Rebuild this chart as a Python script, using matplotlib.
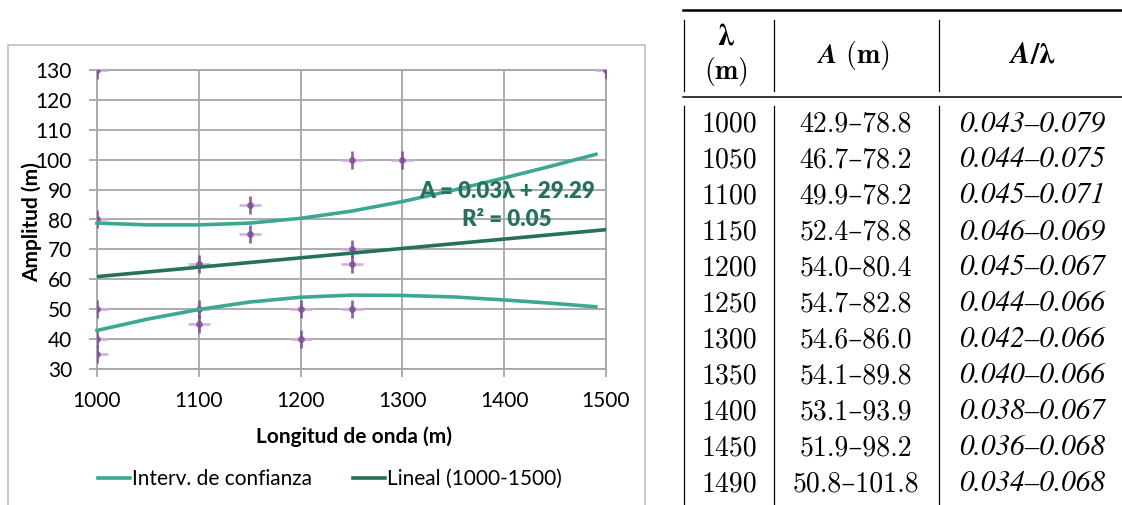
#!/usr/bin/env python3

import matplotlib
matplotlib.use('Agg')
import matplotlib.pyplot as plt
from matplotlib.patches import Rectangle
from matplotlib.lines import Line2D

# confidence interval table (also drawn as the two curves)
lam = [1000, 1050, 1100, 1150, 1200, 1250, 1300, 1350, 1400, 1450, 1490]
a_low = [42.9, 46.7, 49.9, 52.4, 54.0, 54.7, 54.6, 54.1, 53.1, 51.9, 50.8]
a_high = [78.8, 78.2, 78.2, 78.8, 80.4, 82.8, 86.0, 89.8, 93.9, 98.2, 101.8]
ratio_low = ['0.043', '0.044', '0.045', '0.046', '0.045', '0.044',
             '0.042', '0.040', '0.038', '0.036', '0.034']
ratio_high = ['0.079', '0.075', '0.071', '0.069', '0.067', '0.066',
              '0.066', '0.066', '0.067', '0.068', '0.068']

# measured points
obs_x = [1000, 1000, 1000, 1000, 1000, 1100, 1100, 1100, 1150, 1150,
         1200, 1200, 1250, 1250, 1250, 1250, 1300, 1500]
obs_y = [130, 80, 50, 40, 35, 65, 50, 45, 85, 75,
         50, 40, 100, 70, 65, 50, 100, 130]

# linear trend endpoints
lin_x = [1000, 1500]
lin_y = [60.9, 76.6]

teal = '#3da891'
dark = '#26705e'
grid = '#a6a6a6'

W, H = 1122, 505
fig = plt.figure(figsize=(W / 100, H / 100), dpi=100)
font = 'Lato'
cfs = 15

# chart frame
fig.add_artist(Rectangle((8 / W, -0.05), 637 / W, 1.05 - 45 / H,
                         transform=fig.transFigure, fill=False,
                         edgecolor='#c0c0c0', lw=1.2))

ax = fig.add_axes([97 / W, 1 - 369 / H, 509 / W, 299 / H])
ax.set_xlim(1000, 1500)
ax.set_ylim(30, 130)
ax.set_xticks(range(1000, 1501, 100))
ax.set_yticks(range(30, 131, 10))
ax.grid(True, color=grid, lw=1.3)
ax.set_axisbelow(True)
for s in ax.spines.values():
    s.set_color(grid)
    s.set_linewidth(1.3)
ax.tick_params(length=6, width=1.3, color=grid, labelsize=cfs)
ax.tick_params(axis='y', pad=12)
ax.tick_params(axis='x', pad=10)
for lab in ax.get_xticklabels() + ax.get_yticklabels():
    lab.set_fontfamily(font)

ax.plot(obs_x, obs_y, ls='none', marker='_', ms=16, mew=2,
        color='#cfaedb', alpha=0.9, zorder=3)
ax.plot(obs_x, obs_y, ls='none', marker='|', ms=13, mew=2,
        color='#7d4f93', alpha=0.85, zorder=3)
ax.plot(obs_x, obs_y, ls='none', marker='o', ms=4,
        color='#7d4f93', alpha=0.7, zorder=3)

ax.plot(lam, a_high, color=teal, lw=2.6, zorder=4, clip_on=False)
ax.plot(lam, a_low, color=teal, lw=2.6, zorder=4, clip_on=False)
ax.plot(lin_x, lin_y, color=dark, lw=2.6, zorder=4)

ax.text(1403, 89.5, 'A = 0.03λ + 29.29', ha='center', va='center',
        color=dark, fontsize=cfs + 1, fontweight='heavy', family=font,
        zorder=5)
ax.text(1403, 80, 'R² = 0.05', ha='center', va='center',
        color=dark, fontsize=cfs + 1, fontweight='heavy', family=font,
        zorder=5)

fig.text(354 / W, 1 - 437 / H, 'Longitud de onda (m)', ha='center',
         va='center', fontsize=cfs, fontweight='bold', family=font)
fig.text(32 / W, 1 - 222 / H, 'Amplitud (m)', ha='center', va='center',
         rotation=90, fontsize=cfs, fontweight='bold', family=font)

handles = [Line2D([], [], color=teal, lw=2.6),
           Line2D([], [], color=dark, lw=2.6)]
fig.legend(handles, ['Interv. de confianza', 'Lineal (1000-1500)'],
           loc='center', bbox_to_anchor=(330 / W, 1 - 479 / H), ncol=2,
           frameon=False, handlelength=1.5, handletextpad=0.1,
           columnspacing=2.0, prop={'family': font, 'size': cfs})

# table
plt.rcParams['mathtext.fontset'] = 'cm'
tfs = 20
rom = ['cmr10', 'DejaVu Serif']
ita = 'STIXGeneral'


def fx(px):
    return px / W


def fy(py):
    return 1 - py / H


fig.add_artist(Line2D([fx(683), fx(1122)], [fy(10), fy(10)],
                      transform=fig.transFigure, color='black', lw=1.8))
fig.add_artist(Line2D([fx(683), fx(1122)], [fy(97), fy(97)],
                      transform=fig.transFigure, color='black', lw=1.1))
for xp in [684, 774, 939]:
    fig.add_artist(Line2D([fx(xp), fx(xp)], [fy(20), fy(91)],
                          transform=fig.transFigure, color='black', lw=0.9))
    fig.add_artist(Line2D([fx(xp), fx(xp)], [fy(106), fy(505)],
                          transform=fig.transFigure, color='black', lw=0.9))

fig.text(fx(726), fy(36), r'$\boldsymbol{\lambda}$', ha='center',
         va='center', fontsize=tfs + 2, math_fontfamily='stix')
fig.text(fx(726), fy(71), r'$\mathbf{(m)}$', ha='center', va='center',
         fontsize=tfs)
fig.text(fx(853), fy(55), r'$\boldsymbol{A}\ \mathbf{(m)}$', ha='center',
         va='center', fontsize=tfs)
fig.text(fx(1032), fy(55), r'$\boldsymbol{A/\lambda}$', ha='center',
         va='center', fontsize=tfs + 1, math_fontfamily='stix')

for i in range(len(lam)):
    yp = fy(124 + i * 36)
    fig.text(fx(729), yp, str(lam[i]), ha='center', va='center',
             fontsize=tfs, family=rom)
    fig.text(fx(856), yp, f'{a_low[i]:.1f}–{a_high[i]:.1f}', ha='center',
             va='center', fontsize=tfs, family=rom)
    fig.text(fx(1032), yp, f'{ratio_low[i]}–{ratio_high[i]}', ha='center',
             va='center', fontsize=tfs + 1, family=ita, style='italic')

fig.savefig('out.png', dpi=100)
